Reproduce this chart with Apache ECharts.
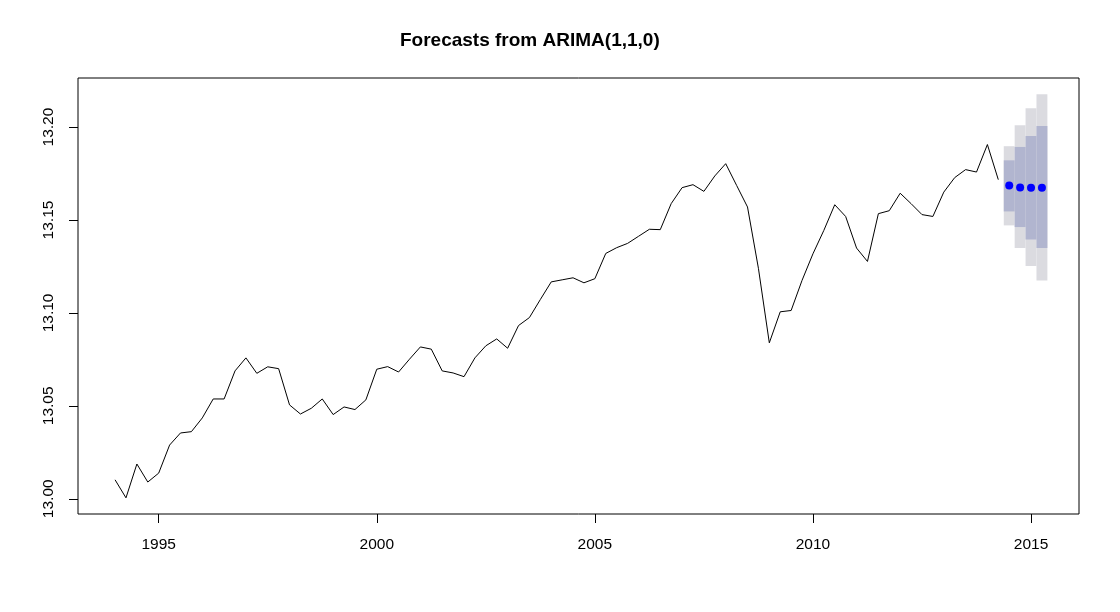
<!DOCTYPE html>
<html>
<head>
<meta charset="utf-8">
<script src="https://cdn.jsdelivr.net/npm/echarts@6/dist/echarts.min.js"></script>
<style>html,body{margin:0;padding:0;background:#fff;}#c{width:1120px;height:612px;}</style>
</head>
<body>
<div id="c"></div>
<script>
// Quarterly series, 1994 Q1 .. 2014 Q2
var startYear = 1994;
var frequency = 4;
var observed = [
  13.0102, 13.0005, 13.0187, 13.0090, 13.0138, 13.0289, 13.0354, 13.0361,
  13.0435, 13.0537, 13.0537, 13.0688, 13.0758, 13.0675, 13.0710, 13.0700,
  13.0505, 13.0456, 13.0487, 13.0537, 13.0453, 13.0494, 13.0480, 13.0532,
  13.0697, 13.0711, 13.0682, 13.0751, 13.0817, 13.0805, 13.0688, 13.0677,
  13.0657, 13.0758, 13.0823, 13.0860, 13.0810, 13.0932, 13.0975, 13.1072,
  13.1167, 13.1178, 13.1189, 13.1162, 13.1184, 13.1320, 13.1351, 13.1374,
  13.1412, 13.1450, 13.1448, 13.1588, 13.1674, 13.1690, 13.1654, 13.1737,
  13.1803, 13.1686, 13.1570, 13.1240, 13.0839, 13.1006, 13.1013, 13.1175,
  13.1318, 13.1444, 13.1582, 13.1519, 13.1349, 13.1277, 13.1534, 13.1550,
  13.1644, 13.1588, 13.1529, 13.1519, 13.1650, 13.1728, 13.1771, 13.1758,
  13.1906, 13.1717
];
// Forecast 2014 Q3 .. 2015 Q2
var forecastMean = [13.1686, 13.1675, 13.1673, 13.1673];
var lo80 = [13.1546, 13.1462, 13.1395, 13.1349];
var hi80 = [13.1821, 13.1893, 13.1952, 13.2006];
var lo95 = [13.1471, 13.1349, 13.1252, 13.1175];
var hi95 = [13.1897, 13.2010, 13.2101, 13.2177];
var xTicks = [1995, 2000, 2005, 2010, 2015];
var yTicks = [13.00, 13.05, 13.10, 13.15, 13.20];
var titleText = 'Forecasts from ARIMA(1,1,0)';

function timeAt(i) { return startYear + i / frequency; }
var obsData = observed.map(function (v, i) { return [timeAt(i), v]; });
var n = observed.length;
var fcData = forecastMean.map(function (v, i) { return [timeAt(n + i), v]; });
var band95 = forecastMean.map(function (v, i) { return [timeAt(n + i), lo95[i], hi95[i]]; });
var band80 = forecastMean.map(function (v, i) { return [timeAt(n + i), lo80[i], hi80[i]]; });

var half = 0.5 / frequency;
function bandRender(color) {
  return function (params, api) {
    var t = api.value(0);
    var p1 = api.coord([t - half, api.value(2)]);
    var p2 = api.coord([t + half, api.value(1)]);
    return {
      type: 'rect',
      shape: { x: p1[0], y: p1[1], width: p2[0] - p1[0], height: p2[1] - p1[1] },
      style: { fill: color, stroke: null }
    };
  };
}

var FONT = '"Liberation Sans", Arial, sans-serif';
var chart = echarts.init(document.getElementById('c'), null, { renderer: 'canvas' });
chart.setOption({
  animation: false,
  backgroundColor: '#ffffff',
  title: {
    text: titleText,
    left: 400, top: 31, padding: 0,
    textStyle: { fontFamily: FONT, fontWeight: 'bold', fontSize: 19, color: '#000' }
  },
  grid: {
    left: 78, right: 41, top: 78, bottom: 98,
    show: true, borderColor: '#000', borderWidth: 1, backgroundColor: 'transparent'
  },
  xAxis: {
    type: 'value', min: 1993.15, max: 2016.1,
    axisLine: { show: false },
    splitLine: { show: false },
    axisTick: { show: true, inside: false, length: 9, lineStyle: { color: '#000', width: 1 }, customValues: xTicks },
    axisLabel: { customValues: xTicks, margin: 23, color: '#000', fontFamily: FONT, fontSize: 15.5,
      formatter: function (v) { return String(v); } }
  },
  yAxis: {
    type: 'value', min: 12.9918, max: 13.2264,
    axisLine: { show: false },
    splitLine: { show: false },
    axisTick: { show: true, inside: false, length: 9, lineStyle: { color: '#000', width: 1 }, customValues: yTicks },
    axisLabel: { customValues: yTicks, rotate: 90, margin: 21, color: '#000', fontFamily: FONT, fontSize: 15.5,
      formatter: function (v) { return v.toFixed(2); } }
  },
  series: [
    { type: 'custom', data: band95, renderItem: bandRender('#DBDBE0'), encode: { x: 0, y: [1, 2] }, z: 1, silent: true },
    { type: 'custom', data: band80, renderItem: bandRender('#B1B5CF'), encode: { x: 0, y: [1, 2] }, z: 2, silent: true },
    { type: 'line', data: obsData, showSymbol: false, symbol: 'none', lineStyle: { color: '#000', width: 1 }, z: 3 },
    { type: 'scatter', data: fcData, symbol: 'circle', symbolSize: 8, itemStyle: { color: '#0000FF', opacity: 1 }, z: 4 }
  ]
});
</script>
</body>
</html>
